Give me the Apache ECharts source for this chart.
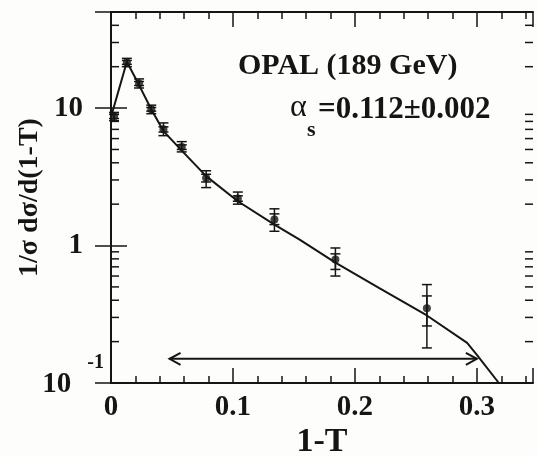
<!DOCTYPE html>
<html>
<head>
<meta charset="utf-8">
<script src="https://cdn.jsdelivr.net/npm/echarts@6/dist/echarts.min.js"></script>
<style>
  html, body { margin: 0; padding: 0; background: #fdfdfc; }
  #chart { width: 537px; height: 457px; }
</style>
</head>
<body>
<div id="chart"></div>
<script>
// OPAL 189 GeV thrust distribution
var xPoints = [0.0025, 0.013, 0.023, 0.033, 0.043, 0.058, 0.078, 0.104, 0.134, 0.184, 0.259];
var yPoints = [8.7, 21.5, 15.1, 9.8, 7.0, 5.2, 3.1, 2.2, 1.55, 0.79, 0.35];
// total errors (outer bars)
var totLo = [8.1, 20.0, 14.0, 9.1, 6.3, 4.8, 2.64, 2.0, 1.27, 0.60, 0.18];
var totHi = [9.3, 23.0, 16.3, 10.5, 7.8, 5.7, 3.5, 2.45, 1.85, 0.96, 0.52];
// statistical errors (inner bars)
var statLo = [8.4, 20.8, 14.6, 9.5, 6.7, 5.0, 2.9, 2.1, 1.42, 0.67, 0.26];
var statHi = [9.0, 22.2, 15.6, 10.1, 7.3, 5.4, 3.3, 2.3, 1.7, 0.87, 0.43];

// QCD fit curve
var curveX = [0, 0.013, 0.023, 0.033, 0.043, 0.058, 0.078, 0.104, 0.134, 0.155, 0.184, 0.22, 0.259, 0.292, 0.30, 0.318];
var curveY = [8.6, 21.7, 14.7, 9.8, 6.8, 4.9, 3.2, 2.1, 1.42, 1.1, 0.75, 0.49, 0.31, 0.196, 0.16, 0.1];

// fit range arrow
var fitRange = [0.048, 0.30];
var fitArrowLevel = 0.15;

var xMin = 0, xMax = 0.346;
var yMin = 0.1, yMax = 50;
var yMinorTicks = [0.2, 0.3, 0.4, 0.5, 0.6, 0.7, 0.8, 0.9, 2, 3, 4, 5, 6, 7, 8, 9, 20, 30, 40];

var ink = '#151515';
var serif = '"Liberation Serif", "Times New Roman", serif';

var myChart = echarts.init(document.getElementById('chart'));

function lineShape(x1, y1, x2, y2, w) {
  return { type: 'line', shape: { x1: x1, y1: y1, x2: x2, y2: y2 }, style: { stroke: ink, lineWidth: w } };
}

function errorBars(lo, hi) {
  return {
    type: 'custom',
    xAxisIndex: 0, yAxisIndex: 0,
    data: xPoints.map(function (x, i) { return [x, lo[i], hi[i]]; }),
    encode: { x: 0, y: [1, 2] },
    z: 4,
    renderItem: function (params, api) {
      var a = api.coord([api.value(0), api.value(1)]);
      var b = api.coord([api.value(0), api.value(2)]);
      var c = 5;
      return { type: 'group', children: [
        lineShape(a[0], a[1], b[0], b[1], 1.5),
        lineShape(a[0] - c, a[1], a[0] + c, a[1], 1.5),
        lineShape(b[0] - c, b[1], b[0] + c, b[1], 1.5)
      ] };
    }
  };
}

var xLabel = function (v) {
  if (Math.abs(v * 10 - Math.round(v * 10)) > 1e-6) return '';
  return v === 0 ? '0' : v.toFixed(1);
};

var option = {
  backgroundColor: '#fdfdfc',
  animation: false,
  grid: { left: 111, right: 4, top: 12, bottom: 74, containLabel: false, outerBoundsMode: 'none' },
  xAxis: [
    {
      type: 'value', position: 'bottom', min: xMin, max: xMax, interval: 0.1,
      name: '1-T', nameLocation: 'middle', nameGap: 42, nameMoveOverlap: false,
      nameTextStyle: { color: ink, fontFamily: serif, fontWeight: 'bold', fontSize: 34 },
      axisLine: { lineStyle: { color: ink, width: 2 } },
      axisTick: { inside: true, length: 15, lineStyle: { color: ink, width: 1.5 } },
      axisLabel: { formatter: xLabel, margin: 10, color: ink, fontFamily: serif, fontWeight: 'bold', fontSize: 29 },
      splitLine: { show: false }
    },
    {
      type: 'value', position: 'bottom', min: xMin, max: xMax, interval: 0.02,
      axisLine: { show: false },
      axisTick: { inside: true, length: 7, lineStyle: { color: ink, width: 1.5 } },
      axisLabel: { show: false }, splitLine: { show: false }
    },
    {
      type: 'value', position: 'top', min: xMin, max: xMax, interval: 0.1,
      axisLine: { lineStyle: { color: ink, width: 2 } },
      axisTick: { inside: true, length: 15, lineStyle: { color: ink, width: 1.5 } },
      axisLabel: { show: false }, splitLine: { show: false }
    },
    {
      type: 'value', position: 'top', min: xMin, max: xMax, interval: 0.02,
      axisLine: { show: false },
      axisTick: { inside: true, length: 7, lineStyle: { color: ink, width: 1.5 } },
      axisLabel: { show: false }, splitLine: { show: false }
    }
  ],
  yAxis: [
    {
      type: 'log', logBase: 10, position: 'left', min: yMin, max: yMax,
      name: '1/σ dσ/d(1-T)', nameLocation: 'middle', nameGap: 67, nameMoveOverlap: false,
      nameTextStyle: { color: ink, fontFamily: serif, fontWeight: 'bold', fontSize: 28 },
      axisLine: { lineStyle: { color: ink, width: 2 } },
      axisTick: { inside: true, length: 16, lineStyle: { color: ink, width: 1.5 } },
      axisLabel: {
        margin: 7,
        formatter: function (v) {
          var e = Math.round(Math.log10(v));
          if (Math.abs(Math.log10(v) - e) > 1e-6) return '';
          if (e < 0) return '{b|10}{sup|' + e + '}';
          return '{n|' + Math.round(v) + '}';
        },
        rich: {
          n: { color: ink, fontFamily: serif, fontWeight: 'bold', fontSize: 29, padding: [0, 21, 0, 0] },
          b: { color: ink, fontFamily: serif, fontWeight: 'bold', fontSize: 29, padding: [0, 16, 14, 0], verticalAlign: 'bottom' },
          sup: { color: ink, fontFamily: serif, fontWeight: 'bold', fontSize: 20, padding: [0, 0, 40, 0], verticalAlign: 'top' }
        }
      },
      splitLine: { show: false }
    },
    {
      type: 'log', logBase: 10, position: 'right', min: yMin, max: yMax,
      axisLine: { lineStyle: { color: ink, width: 2 } },
      axisTick: { inside: true, length: 16, lineStyle: { color: ink, width: 1.5 } },
      axisLabel: { show: false }, splitLine: { show: false }
    }
  ],
  graphic: [
    { type: 'text', left: 238, top: 51, style: { text: 'OPAL (189 GeV)', fill: ink, font: 'bold 30px ' + serif } },
    { type: 'text', left: 290, top: 92, style: { text: 'α', fill: ink, font: '32px ' + serif } },
    { type: 'text', left: 307, top: 119, style: { text: 's', fill: ink, font: 'bold 22px ' + serif } },
    { type: 'text', left: 318, top: 94, style: { text: '=0.112±0.002', fill: ink, font: 'bold 31px ' + serif } }
  ],
  series: [
    {
      // y minor ticks on left and right
      type: 'custom', xAxisIndex: 0, yAxisIndex: 0,
      data: yMinorTicks.map(function (v) { return [xMin, v]; }),
      encode: { x: 0, y: 1 }, silent: true, z: 1,
      renderItem: function (params, api) {
        var l = api.coord([xMin, api.value(1)]);
        var r = api.coord([xMax, api.value(1)]);
        return { type: 'group', children: [
          lineShape(l[0], l[1], l[0] + 8, l[1], 1.5),
          lineShape(r[0] - 8, r[1], r[0], r[1], 1.5)
        ] };
      }
    },
    {
      type: 'line', xAxisIndex: 0, yAxisIndex: 0,
      data: curveX.map(function (x, i) { return [x, curveY[i]]; }),
      showSymbol: false, symbol: 'none', clip: true, z: 3,
      lineStyle: { color: ink, width: 2 }
    },
    errorBars(totLo, totHi),
    errorBars(statLo, statHi),
    {
      type: 'scatter', xAxisIndex: 0, yAxisIndex: 0,
      data: xPoints.map(function (x, i) { return [x, yPoints[i]]; }),
      symbol: 'circle', symbolSize: 8, z: 5,
      itemStyle: { color: ink }
    },
    {
      // fit range arrow
      type: 'custom', xAxisIndex: 0, yAxisIndex: 0,
      data: [[fitRange[0], fitArrowLevel, fitRange[1]]],
      encode: { x: [0, 2], y: 1 }, z: 4,
      renderItem: function (params, api) {
        var a = api.coord([api.value(0), api.value(1)]);
        var b = api.coord([api.value(2), api.value(1)]);
        var h = 11, v = 6;
        return { type: 'group', children: [
          lineShape(a[0], a[1], b[0], b[1], 2),
          { type: 'polyline', shape: { points: [[a[0] + h, a[1] - v], [a[0], a[1]], [a[0] + h, a[1] + v]] }, style: { stroke: ink, lineWidth: 2, fill: null } },
          { type: 'polyline', shape: { points: [[b[0] - h, b[1] - v], [b[0], b[1]], [b[0] - h, b[1] + v]] }, style: { stroke: ink, lineWidth: 2, fill: null } }
        ] };
      }
    }
  ]
};

myChart.setOption(option);
</script>
</body>
</html>
